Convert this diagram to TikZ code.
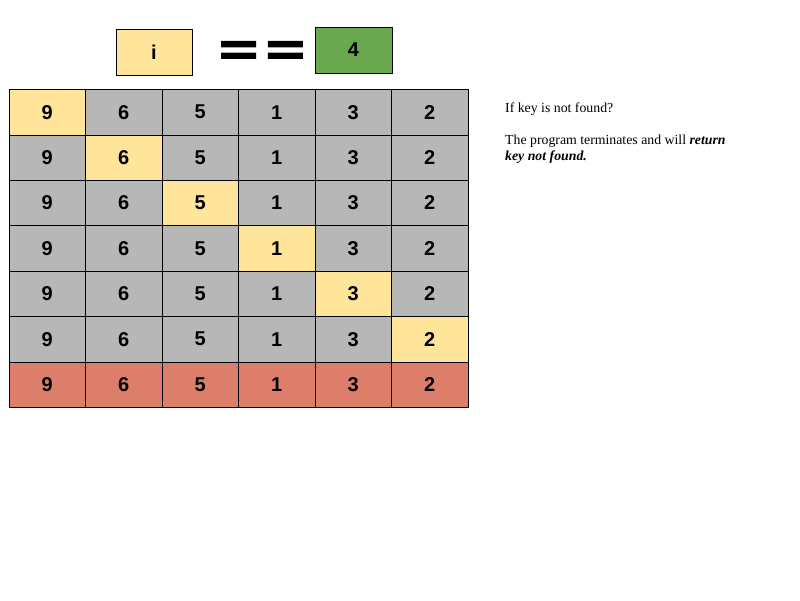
\documentclass[tikz,border=0pt]{standalone}
\usepackage{fontspec}
\setmainfont{Liberation Serif}
\setsansfont{Liberation Sans}
\newfontfamily\eqfont[FakeBold=4]{Liberation Sans Bold}
\usetikzlibrary{positioning}
\definecolor{hlyellow}{HTML}{FFE599}
\definecolor{cellgray}{HTML}{B7B7B7}
\definecolor{keygreen}{HTML}{6AA84F}
\definecolor{failred}{HTML}{DD7E6B}
\newcommand{\wideeq}{\scalebox{1.5}[1]{=}}

\begin{document}
\begin{tikzpicture}[x=1pt,y=-1pt, cell/.style={rectangle, draw, line width=0.8pt,
	minimum width=76.5pt, minimum height=45.4pt, inner sep=0pt,
	font=\sffamily\bfseries\fontsize{20}{20}\selectfont}]
\useasboundingbox (0,0) rectangle (800,600);

\node[cell, fill=hlyellow, minimum width=76pt, minimum height=46pt] (ivar) at (154,52) {i};
\node[font=\eqfont\fontsize{43}{43}\selectfont, inner sep=0pt] (eq) at (262,53) {\wideeq\hspace{9pt}\wideeq};
\node[cell, fill=keygreen, minimum width=77pt, minimum height=46pt] (key) at (353.5,50) {4};

% search grid, one row per step
\foreach \r in {0,...,6}{
  \foreach \v [count=\c from 0] in {9,6,5,1,3,2}{
    \ifnum\r=6 \def\fillc{failred}\else\ifnum\r=\c \def\fillc{hlyellow}\else\def\fillc{cellgray}\fi\fi
    \node[cell, fill=\fillc] (c-\r-\c) at ({47.25+76.5*\c},{112.2+45.4*\r}) {\v};
  }
}

\node[anchor=north west, inner sep=0pt, align=left, font=\fontsize{13.8}{16}\selectfont] (note) at (505,103)
  {If key is not found?\\[16pt]The program terminates and will \textbf{\textit{return}}\\\textbf{\textit{key not found.}}};
\end{tikzpicture}
\end{document}
